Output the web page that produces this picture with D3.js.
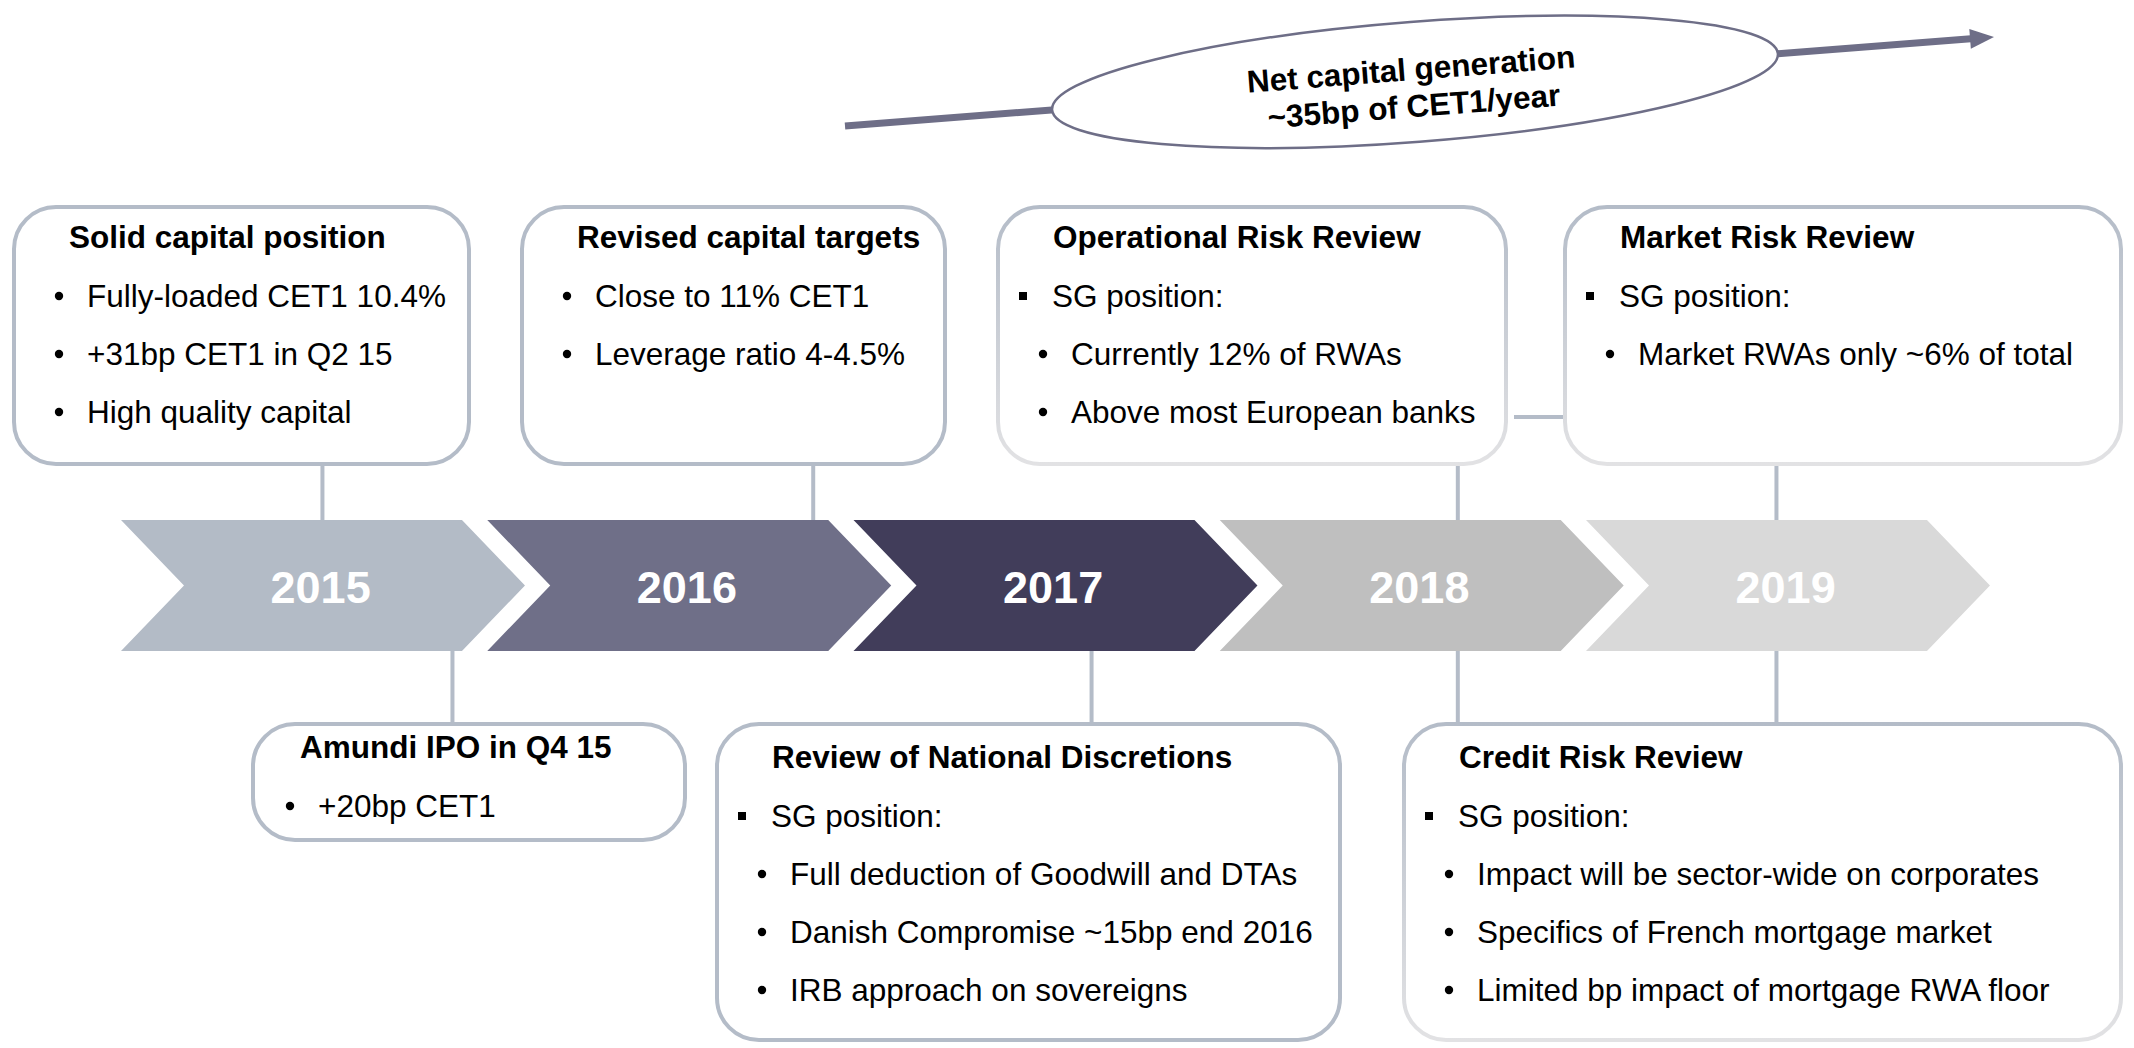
<!DOCTYPE html>
<html><head><meta charset="utf-8">
<script src="https://cdn.jsdelivr.net/npm/d3@7"></script>
<style>html,body{margin:0;padding:0;background:#fff;} svg{display:block;}</style>
</head><body>
<svg id="chart" width="2134" height="1048"></svg>
<script>
// ---------- DATA ----------
const years = ["2015", "2016", "2017", "2018", "2019"];
const bannerLines = ["Net capital generation", "~35bp of CET1/year"];
const eventTitles = [
  "Solid capital position",
  "Revised capital targets",
  "Operational Risk Review",
  "Market Risk Review",
  "Amundi IPO in Q4 15",
  "Review of National Discretions",
  "Credit Risk Review"
];
// position of each event on the time axis (fractional year)
const eventTimes = [[2015.55], [2016.89], [2018.65], [2019.52], [2015.905], [2017.65], [2018.65, 2019.52]];
const eventSides = ["top", "top", "top", "top", "bottom", "bottom", "bottom"];
// [level, text]  level 0 = square bullet, level 1 = round bullet
const eventBullets = [
  [[1, "Fully-loaded CET1 10.4%"], [1, "+31bp CET1 in Q2 15"], [1, "High quality capital"]],
  [[1, "Close to 11% CET1"], [1, "Leverage ratio 4-4.5%"]],
  [[0, "SG position:"], [1, "Currently 12% of RWAs"], [1, "Above most European banks"]],
  [[0, "SG position:"], [1, "Market RWAs only ~6% of total"]],
  [[1, "+20bp CET1"]],
  [[0, "SG position:"], [1, "Full deduction of Goodwill and DTAs"], [1, "Danish Compromise ~15bp end 2016"], [1, "IRB approach on sovereigns"]],
  [[0, "SG position:"], [1, "Impact will be sector-wide on corporates"], [1, "Specifics of French mortgage market"], [1, "Limited bp impact of mortgage RWA floor"]]
];
// links between boxes (index pairs)
const boxLinks = [[2, 3]];

// ---------- STYLE / LAYOUT ----------
const FONT = "'Liberation Sans', Arial, Helvetica, sans-serif";
const yearColors = ["#b3bbc6", "#6f6f88", "#413d5a", "#bfbfbf", "#d9d9d9"];
const boxStroke = "#b4bcc8";
const arrowColor = "#6e6e87";
const boxGeom = [
  {x0: 12, x1: 471, y0: 205, y1: 466, titleDy: 43, fade: false, indent: 0},
  {x0: 520, x1: 947, y0: 205, y1: 466, titleDy: 43, fade: false, indent: 0},
  {x0: 996, x1: 1508, y0: 205, y1: 466, titleDy: 43, fade: true, indent: 0},
  {x0: 1563, x1: 2123, y0: 205, y1: 466, titleDy: 43, fade: true, indent: 0},
  {x0: 251, x1: 687, y0: 722, y1: 842, titleDy: 36, fade: false, indent: -8},
  {x0: 715, x1: 1342, y0: 722, y1: 1042, titleDy: 46, fade: false, indent: 0},
  {x0: 1402, x1: 2123, y0: 722, y1: 1042, titleDy: 46, fade: true, indent: 0}
];
const chevTop = 520, chevBot = 651;
const fontSize = 31.5, lineStep = 58;

const svg = d3.select("#chart");
const defs = svg.append("defs");
const grad = defs.append("linearGradient").attr("id", "fadeStroke")
  .attr("x1", 0).attr("y1", 0).attr("x2", 0).attr("y2", 1);
grad.append("stop").attr("offset", "0%").attr("stop-color", "#b4bcc8");
grad.append("stop").attr("offset", "100%").attr("stop-color", "#e2e2e4");

// time scale -> x
const x = d3.scaleLinear().domain([2015, 2020]).range([121, 121 + 5 * 366.25]);
const step = x(2016) - x(2015);
const shoulder = step * 0.931, tip = step * 1.103, notch = step * 0.172;
const yMid = (chevTop + chevBot) / 2;

// ---------- connectors ----------
const conn = svg.append("g").attr("stroke", boxStroke).attr("stroke-width", 4);
eventTitles.forEach((t, i) => {
  const b = boxGeom[i];
  eventTimes[i].forEach(tt => {
    const cx = x(tt);
    if (eventSides[i] === "top") {
      conn.append("line").attr("x1", cx).attr("x2", cx).attr("y1", b.y1).attr("y2", chevTop);
    } else {
      conn.append("line").attr("x1", cx).attr("x2", cx).attr("y1", chevBot).attr("y2", b.y0);
    }
  });
});
boxLinks.forEach(([a, c]) => {
  const A = boxGeom[a], C = boxGeom[c];
  conn.append("line").attr("x1", A.x1 + 6).attr("x2", C.x0).attr("y1", 417).attr("y2", 417);
});

// ---------- chevrons ----------
const chev = svg.append("g");
chev.selectAll("polygon").data(years).join("polygon")
  .attr("points", d => {
    const L = x(+d);
    return [[L, chevTop], [L + shoulder, chevTop], [L + tip, yMid], [L + shoulder, chevBot], [L, chevBot], [L + notch, yMid]]
      .map(p => p.join(",")).join(" ");
  })
  .attr("fill", (d, i) => yearColors[i]);
chev.selectAll("text").data(years).join("text")
  .attr("x", d => x(+d + 0.545))
  .attr("y", 603)
  .attr("text-anchor", "middle")
  .attr("font-family", FONT).attr("font-weight", "bold").attr("font-size", 45)
  .attr("fill", "#fff")
  .text(d => d);

// ---------- boxes ----------
const boxes = svg.append("g");
eventTitles.forEach((title, i) => {
  const b = boxGeom[i];
  const g = boxes.append("g");
  g.append("rect")
    .attr("x", b.x0 + 2).attr("y", b.y0 + 2)
    .attr("width", b.x1 - b.x0 - 4).attr("height", b.y1 - b.y0 - 4)
    .attr("rx", 42).attr("ry", 42)
    .attr("fill", "#fff")
    .attr("stroke", b.fade ? "url(#fadeStroke)" : boxStroke)
    .attr("stroke-width", 4);
  const tx = b.x0 + 57 + b.indent;
  const ty = b.y0 + b.titleDy;
  g.append("text").attr("x", tx).attr("y", ty)
    .attr("font-family", FONT).attr("font-weight", "bold").attr("font-size", fontSize)
    .attr("fill", "#000").text(title);
  eventBullets[i].forEach(([lvl, txt], j) => {
    const by = ty + 59 + j * lineStep;
    if (lvl === 0) {
      g.append("rect").attr("x", b.x0 + 23 + b.indent).attr("y", by - 15).attr("width", 8).attr("height", 8).attr("fill", "#000");
      g.append("text").attr("x", b.x0 + 56 + b.indent).attr("y", by)
        .attr("font-family", FONT).attr("font-size", fontSize).attr("fill", "#000").text(txt);
    } else {
      g.append("circle").attr("cx", b.x0 + 47 + b.indent).attr("cy", by - 11).attr("r", 4.2).attr("fill", "#000");
      g.append("text").attr("x", b.x0 + 75 + b.indent).attr("y", by)
        .attr("font-family", FONT).attr("font-size", fontSize).attr("fill", "#000").text(txt);
    }
  });
});

// ---------- banner arrow + ellipse ----------
const p0 = [845, 126], p1 = [1994, 37];
const ang = Math.atan2(p1[1] - p0[1], p1[0] - p0[0]) * 180 / Math.PI;
const len = Math.hypot(p1[0] - p0[0], p1[1] - p0[1]);
const ban = svg.append("g").attr("transform", `translate(${p0[0]},${p0[1]}) rotate(${ang})`);
ban.append("line").attr("x1", 0).attr("y1", 0).attr("x2", len - 20).attr("y2", 0)
  .attr("stroke", arrowColor).attr("stroke-width", 7);
ban.append("polygon").attr("points", `${len - 24},-10 ${len},0 ${len - 24},10`).attr("fill", arrowColor);
const eLocal = Math.hypot(1415 - p0[0], (p1[1] - p0[1]) * (1415 - p0[0]) / (p1[0] - p0[0]));
const eg = ban.append("g").attr("transform", `translate(${eLocal},0)`);
eg.append("ellipse").attr("cx", 0).attr("cy", 0).attr("rx", 364).attr("ry", 60)
  .attr("fill", "#fff").attr("stroke", arrowColor).attr("stroke-width", 2.5);
eg.selectAll("text").data(bannerLines).join("text")
  .attr("x", -3).attr("y", (d, i) => -2 + i * 37)
  .attr("text-anchor", "middle")
  .attr("font-family", FONT).attr("font-weight", "bold").attr("font-size", fontSize)
  .attr("fill", "#000").text(d => d);
</script>
</body></html>
